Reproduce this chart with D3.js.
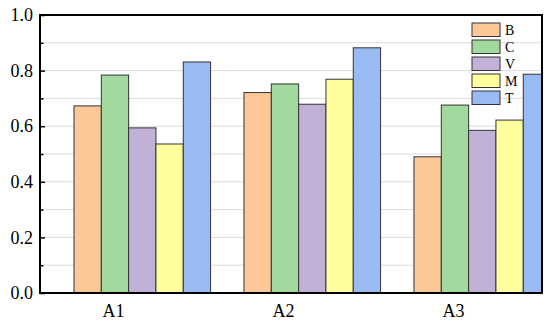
<!DOCTYPE html>
<html>
<head>
<meta charset="utf-8">
<script src="https://cdn.jsdelivr.net/npm/d3@7"></script>
<style>
  body { margin: 0; background: #fff; }
  svg text { font-family: "Liberation Serif", "Times New Roman", serif; fill: #000; }
</style>
</head>
<body>
<svg id="bar-chart"></svg>
<script>
var groups = ["A1", "A2", "A3"];
var seriesNames = ["B", "C", "V", "M", "T"];
var seriesColors = ["#fdc898", "#a1d99f", "#c2b1d7", "#ffff9d", "#9abbf1"];
var valuesB = [0.673, 0.721, 0.490];
var valuesC = [0.784, 0.752, 0.676];
var valuesV = [0.594, 0.679, 0.585];
var valuesM = [0.536, 0.769, 0.622];
var valuesT = [0.831, 0.882, 0.787];
var yTicks = [0, 0.2, 0.4, 0.6, 0.8, 1.0];
var yMinor = [0.1, 0.3, 0.5, 0.7, 0.9];

var seriesValues = [valuesB, valuesC, valuesV, valuesM, valuesT];

var width = 550, height = 324;
var padding = { top: 15, right: 8, bottom: 31, left: 40 };

var svg = d3.select("#bar-chart")
    .attr("width", width)
    .attr("height", height);

// x is a numeric category axis (1, 2, 3), Origin style
var xScale = d3.scaleLinear()
    .domain([0.571, 3.524])
    .range([padding.left, width - padding.right]);

var yScale = d3.scaleLinear()
    .domain([0, 1])
    .range([height - padding.bottom, padding.top]);

var barUnit = 0.1607;
var barStart = -0.229;

svg.append("clipPath")
    .attr("id", "plot-clip")
  .append("rect")
    .attr("x", padding.left)
    .attr("y", padding.top)
    .attr("width", width - padding.left - padding.right)
    .attr("height", height - padding.top - padding.bottom);

// grid lines
svg.append("g")
    .selectAll("line")
    .data(yTicks.concat(yMinor).filter(d => d > 0 && d < 1))
    .enter()
    .append("line")
      .attr("x1", padding.left)
      .attr("x2", width - padding.right)
      .attr("y1", d => yScale(d))
      .attr("y2", d => yScale(d))
      .attr("stroke", "#dcdcdc")
      .attr("stroke-width", 1);

var barData = [];
seriesValues.forEach(function(vals, s) {
  vals.forEach(function(v, g) {
    barData.push({ series: s, group: g, value: v });
  });
});

svg.append("g")
    .attr("clip-path", "url(#plot-clip)")
    .selectAll("rect")
    .data(barData)
    .enter()
    .append("rect")
      .attr("x", d => xScale(d.group + 1 + barStart + d.series * barUnit))
      .attr("width", d => xScale(barUnit) - xScale(0))
      .attr("y", d => yScale(d.value))
      .attr("height", d => yScale(0) - yScale(d.value))
      .attr("fill", d => seriesColors[d.series])
      .attr("stroke", "#333")
      .attr("stroke-width", 1);

// axes
var yAxis = d3.axisLeft(yScale)
    .tickValues(yTicks)
    .tickSize(-5)
    .tickFormat(d3.format(".1f"));

var yAxisG = svg.append("g")
    .attr("transform", "translate(" + padding.left + ",0)")
    .call(yAxis);
yAxisG.select(".domain").remove();
yAxisG.selectAll(".tick line").attr("stroke", "#000").attr("stroke-width", 1.5);
yAxisG.selectAll("text").style("font-size", "18px").attr("x", -7);

var yMinorAxis = d3.axisLeft(yScale)
    .tickValues(yMinor)
    .tickSize(-3.5)
    .tickFormat("");
var yMinorG = svg.append("g")
    .attr("transform", "translate(" + padding.left + ",0)")
    .call(yMinorAxis);
yMinorG.select(".domain").remove();
yMinorG.selectAll(".tick line").attr("stroke", "#000").attr("stroke-width", 1.5);

var xAxis = d3.axisBottom(xScale)
    .tickValues([1, 2, 3])
    .tickSize(0)
    .tickFormat((d, i) => groups[i]);

var xAxisG = svg.append("g")
    .attr("transform", "translate(0," + (height - padding.bottom) + ")")
    .call(xAxis);
xAxisG.select(".domain").remove();
xAxisG.selectAll("text").style("font-size", "18px").attr("y", 11);

// frame
svg.append("rect")
    .attr("x", padding.left)
    .attr("y", padding.top)
    .attr("width", width - padding.left - padding.right)
    .attr("height", height - padding.top - padding.bottom)
    .attr("fill", "none")
    .attr("stroke", "#000")
    .attr("stroke-width", 2);

// legend
var legend = svg.append("g")
    .attr("transform", "translate(472,23)")
    .selectAll("g")
    .data(seriesNames)
    .enter()
    .append("g")
      .attr("transform", (d, i) => "translate(0," + i * 17 + ")");

legend.append("rect")
    .attr("width", 28)
    .attr("height", 13.5)
    .attr("fill", (d, i) => seriesColors[i])
    .attr("stroke", "#333")
    .attr("stroke-width", 1);

legend.append("text")
    .attr("x", 33)
    .attr("y", 11.5)
    .style("font-size", "14px")
    .text(d => d);
</script>
</body>
</html>
